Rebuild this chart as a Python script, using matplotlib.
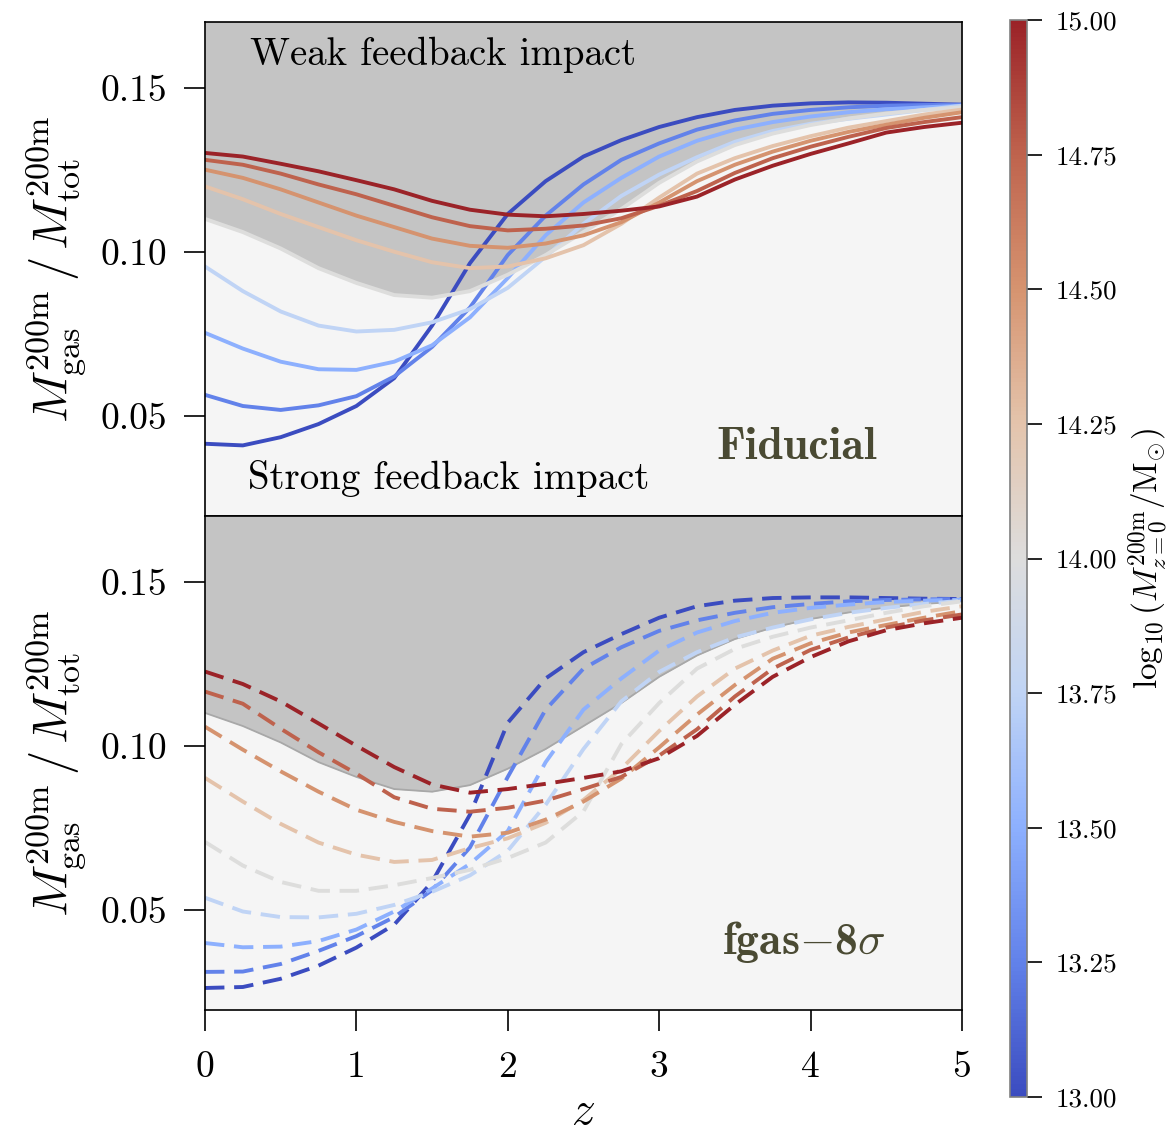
import numpy as np
import matplotlib
matplotlib.use("Agg")
import matplotlib.pyplot as plt
from matplotlib import colors, cm

plt.rcParams['font.family'] = 'serif'
plt.rcParams['font.serif'] = ['cmr10', 'DejaVu Serif']
plt.rcParams['mathtext.fontset'] = 'cm'
plt.rcParams['axes.formatter.use_mathtext'] = True
plt.rcParams['axes.unicode_minus'] = False

# ---------------- data ----------------
z = [0.0, 0.25, 0.5, 0.75, 1.0, 1.25, 1.5, 1.75, 2.0, 2.25, 2.5,
     2.75, 3.0, 3.25, 3.5, 3.75, 4.0, 4.25, 4.5, 4.75, 5.0]

log_mass = [13.0, 13.25, 13.5, 13.75, 14.0, 14.25, 14.5, 14.75, 15.0]

# Fiducial (solid)
fid_1300 = [0.0415, 0.0410, 0.0435, 0.0475, 0.0530, 0.0615, 0.0775, 0.0965, 0.1115, 0.1215, 0.1290,
            0.1340, 0.1380, 0.1410, 0.1432, 0.1445, 0.1452, 0.1455, 0.1454, 0.1451, 0.1448]
fid_1325 = [0.0564, 0.0530, 0.0518, 0.0532, 0.0560, 0.0620, 0.0710, 0.0830, 0.0990, 0.1110, 0.1205,
            0.1280, 0.1330, 0.1372, 0.1400, 0.1420, 0.1432, 0.1440, 0.1445, 0.1447, 0.1448]
fid_1350 = [0.0753, 0.0705, 0.0665, 0.0642, 0.0640, 0.0665, 0.0715, 0.0800, 0.0920, 0.1050, 0.1150,
            0.1225, 0.1290, 0.1338, 0.1372, 0.1395, 0.1412, 0.1425, 0.1434, 0.1440, 0.1445]
fid_1375 = [0.0955, 0.0880, 0.0818, 0.0775, 0.0757, 0.0762, 0.0785, 0.0825, 0.0890, 0.0985, 0.1085,
            0.1170, 0.1235, 0.1288, 0.1335, 0.1368, 0.1390, 0.1405, 0.1418, 0.1432, 0.1445]
fid_1400 = [0.1100, 0.1060, 0.1010, 0.0950, 0.0905, 0.0868, 0.0860, 0.0880, 0.0930, 0.0990, 0.1060,
            0.1130, 0.1210, 0.1275, 0.1325, 0.1360, 0.1386, 0.1406, 0.1421, 0.1432, 0.1440]
fid_1425 = [0.1199, 0.1160, 0.1115, 0.1075, 0.1035, 0.1000, 0.0968, 0.0950, 0.0955, 0.0980, 0.1020,
            0.1085, 0.1165, 0.1238, 0.1285, 0.1322, 0.1352, 0.1378, 0.1398, 0.1418, 0.1433]
fid_1450 = [0.1250, 0.1225, 0.1190, 0.1150, 0.1110, 0.1075, 0.1040, 0.1018, 0.1012, 0.1025, 0.1050,
            0.1090, 0.1150, 0.1215, 0.1265, 0.1305, 0.1338, 0.1365, 0.1387, 0.1408, 0.1425]
fid_1475 = [0.1280, 0.1265, 0.1238, 0.1205, 0.1175, 0.1140, 0.1105, 0.1078, 0.1065, 0.1070, 0.1080,
            0.1102, 0.1140, 0.1185, 0.1240, 0.1285, 0.1320, 0.1350, 0.1377, 0.1395, 0.1410]
fid_1500 = [0.1301, 0.1290, 0.1268, 0.1245, 0.1218, 0.1190, 0.1155, 0.1128, 0.1113, 0.1108, 0.1115,
            0.1125, 0.1138, 0.1168, 0.1220, 0.1262, 0.1298, 0.1330, 0.1363, 0.1380, 0.1393]

# fgas-8sigma (dashed)
fg8_1300 = [0.0262, 0.0265, 0.0290, 0.0330, 0.0385, 0.0455, 0.0585, 0.0790, 0.1070, 0.1205, 0.1285,
            0.1340, 0.1390, 0.1425, 0.1442, 0.1450, 0.1452, 0.1452, 0.1450, 0.1448, 0.1447]
fg8_1325 = [0.0311, 0.0312, 0.0335, 0.0375, 0.0420, 0.0478, 0.0560, 0.0690, 0.0905, 0.1110, 0.1235,
            0.1300, 0.1350, 0.1382, 0.1405, 0.1422, 0.1432, 0.1440, 0.1444, 0.1446, 0.1447]
fg8_1350 = [0.0399, 0.0386, 0.0388, 0.0405, 0.0440, 0.0495, 0.0565, 0.0640, 0.0740, 0.0950, 0.1110,
            0.1205, 0.1290, 0.1345, 0.1380, 0.1405, 0.1420, 0.1430, 0.1438, 0.1442, 0.1445]
fg8_1375 = [0.0537, 0.0495, 0.0478, 0.0477, 0.0488, 0.0515, 0.0555, 0.0605, 0.0680, 0.0820, 0.0990,
            0.1135, 0.1225, 0.1285, 0.1330, 0.1360, 0.1385, 0.1405, 0.1420, 0.1432, 0.1442]
fg8_1400 = [0.0707, 0.0635, 0.0585, 0.0558, 0.0558, 0.0575, 0.0597, 0.0622, 0.0658, 0.0705, 0.0800,
            0.1005, 0.1130, 0.1235, 0.1295, 0.1332, 0.1360, 0.1382, 0.1405, 0.1425, 0.1440]
fg8_1425 = [0.0902, 0.0830, 0.0762, 0.0705, 0.0668, 0.0646, 0.0652, 0.0688, 0.0718, 0.0765, 0.0835,
            0.0930, 0.1045, 0.1150, 0.1235, 0.1290, 0.1335, 0.1362, 0.1385, 0.1408, 0.1425]
fg8_1450 = [0.1058, 0.0988, 0.0922, 0.0860, 0.0805, 0.0768, 0.0740, 0.0723, 0.0735, 0.0775, 0.0830,
            0.0900, 0.0995, 0.1095, 0.1185, 0.1265, 0.1312, 0.1345, 0.1368, 0.1390, 0.1410]
fg8_1475 = [0.1165, 0.1128, 0.1052, 0.0980, 0.0915, 0.0843, 0.0808, 0.0799, 0.0811, 0.0833, 0.0868,
            0.0905, 0.0970, 0.1050, 0.1150, 0.1235, 0.1292, 0.1330, 0.1360, 0.1382, 0.1400]
fg8_1500 = [0.1226, 0.1188, 0.1135, 0.1068, 0.1000, 0.0935, 0.0882, 0.0857, 0.0868, 0.0884, 0.0902,
            0.0922, 0.0962, 0.1030, 0.1125, 0.1210, 0.1270, 0.1318, 0.1352, 0.1373, 0.1390]

fiducial = [fid_1300, fid_1325, fid_1350, fid_1375, fid_1400, fid_1425, fid_1450, fid_1475, fid_1500]
fgas8 = [fg8_1300, fg8_1325, fg8_1350, fg8_1375, fg8_1400, fg8_1425, fg8_1450, fg8_1475, fg8_1500]
boundary = fid_1400

y_ticks = [0.05, 0.10, 0.15]
x_ticks = [0, 1, 2, 3, 4, 5]
cbar_ticks = [13.0, 13.25, 13.5, 13.75, 14.0, 14.25, 14.5, 14.75, 15.0]

# ---------------- style ----------------
cmap_colors = ['#3b4cc0', '#6282ea', '#8db0fe', '#c0d4f5', '#dddddd',
               '#e4c4ac', '#d69470', '#bf644e', '#9b2328']
cmap = colors.LinearSegmentedColormap.from_list('cw_muted', cmap_colors, N=256)
norm = colors.Normalize(vmin=13.0, vmax=15.0)

fig = plt.figure(figsize=(11.76, 11.38), dpi=100)
ax1 = fig.add_axes([0.1743, 0.5466, 0.6437, 0.4341])
ax2 = fig.add_axes([0.1743, 0.1125, 0.6437, 0.4341], sharex=ax1)
cax = fig.add_axes([0.8588, 0.036, 0.01446, 0.9464])

ylab = r'$M^{\rm 200m}_{\rm gas}\,/\,M^{\rm 200m}_{\rm tot}$'
for ax in (ax1, ax2):
    ax.set_facecolor('#f5f5f5')
    ax.fill_between(z, boundary, 0.2, color='#c4c4c4', lw=0, zorder=0)
    ax.set_xlim(0, 5)
    ax.set_ylim(0.0195, 0.170)
    ax.set_yticks(y_ticks)
    ax.set_yticklabels(['%.2f' % v for v in y_ticks])
    ax.tick_params(axis='y', labelsize=27, length=15, width=1.2, direction='out', pad=12)
    ax.tick_params(axis='x', labelsize=27, length=15, width=1.2, direction='out', pad=14)
    ax.set_ylabel(ylab, fontsize=35, labelpad=10)
    for sp in ax.spines.values():
        sp.set_linewidth(1.2)

ax1.tick_params(axis='x', bottom=False, labelbottom=False)
ax2.set_xticks(x_ticks)
ax2.set_xticklabels([str(v) for v in x_ticks])
ax2.set_xlabel(r'$z$', fontsize=34, labelpad=6)

ax2.plot(z, boundary, color='#a8a8a8', lw=1.3, zorder=1)

for m, yv in zip(log_mass, fiducial):
    ax1.plot(z, yv, color=cmap(norm(m)), lw=2.8, zorder=2,
             solid_capstyle='round', solid_joinstyle='round')
for m, yv in zip(log_mass, fgas8):
    ax2.plot(z, yv, color=cmap(norm(m)), lw=2.8, zorder=2,
             dashes=(5.0, 2.5))

ax1.text(0.297, 0.1600, 'Weak feedback impact', fontsize=28, ha='left', va='center')
ax1.text(0.284, 0.0309, 'Strong feedback impact', fontsize=28, ha='left', va='center')
lab_col = '#4a4a33'
ax1.text(3.375, 0.0404, 'Fiducial', fontsize=33, ha='left', va='center',
         family='cmb10', color=lab_col)
ax2.text(3.415, 0.0402, r'fgas$-$8$\sigma$', fontsize=33, ha='left', va='center',
         family='cmb10', color=lab_col)

sm = cm.ScalarMappable(norm=norm, cmap=cmap)
cb = fig.colorbar(sm, cax=cax)
cb.set_ticks(cbar_ticks)
cb.set_ticklabels(['%.2f' % v for v in cbar_ticks])
cb.ax.tick_params(labelsize=19.5, length=11, width=1.2, pad=10)
cb.outline.set_edgecolor('#808080')
cb.outline.set_linewidth(1.2)
cb.set_label(r'$\log_{10}(M^{\rm 200m}_{z=0}/{\rm M}_{\odot})$', fontsize=24, labelpad=6)

fig.savefig('out.png', dpi=100)
